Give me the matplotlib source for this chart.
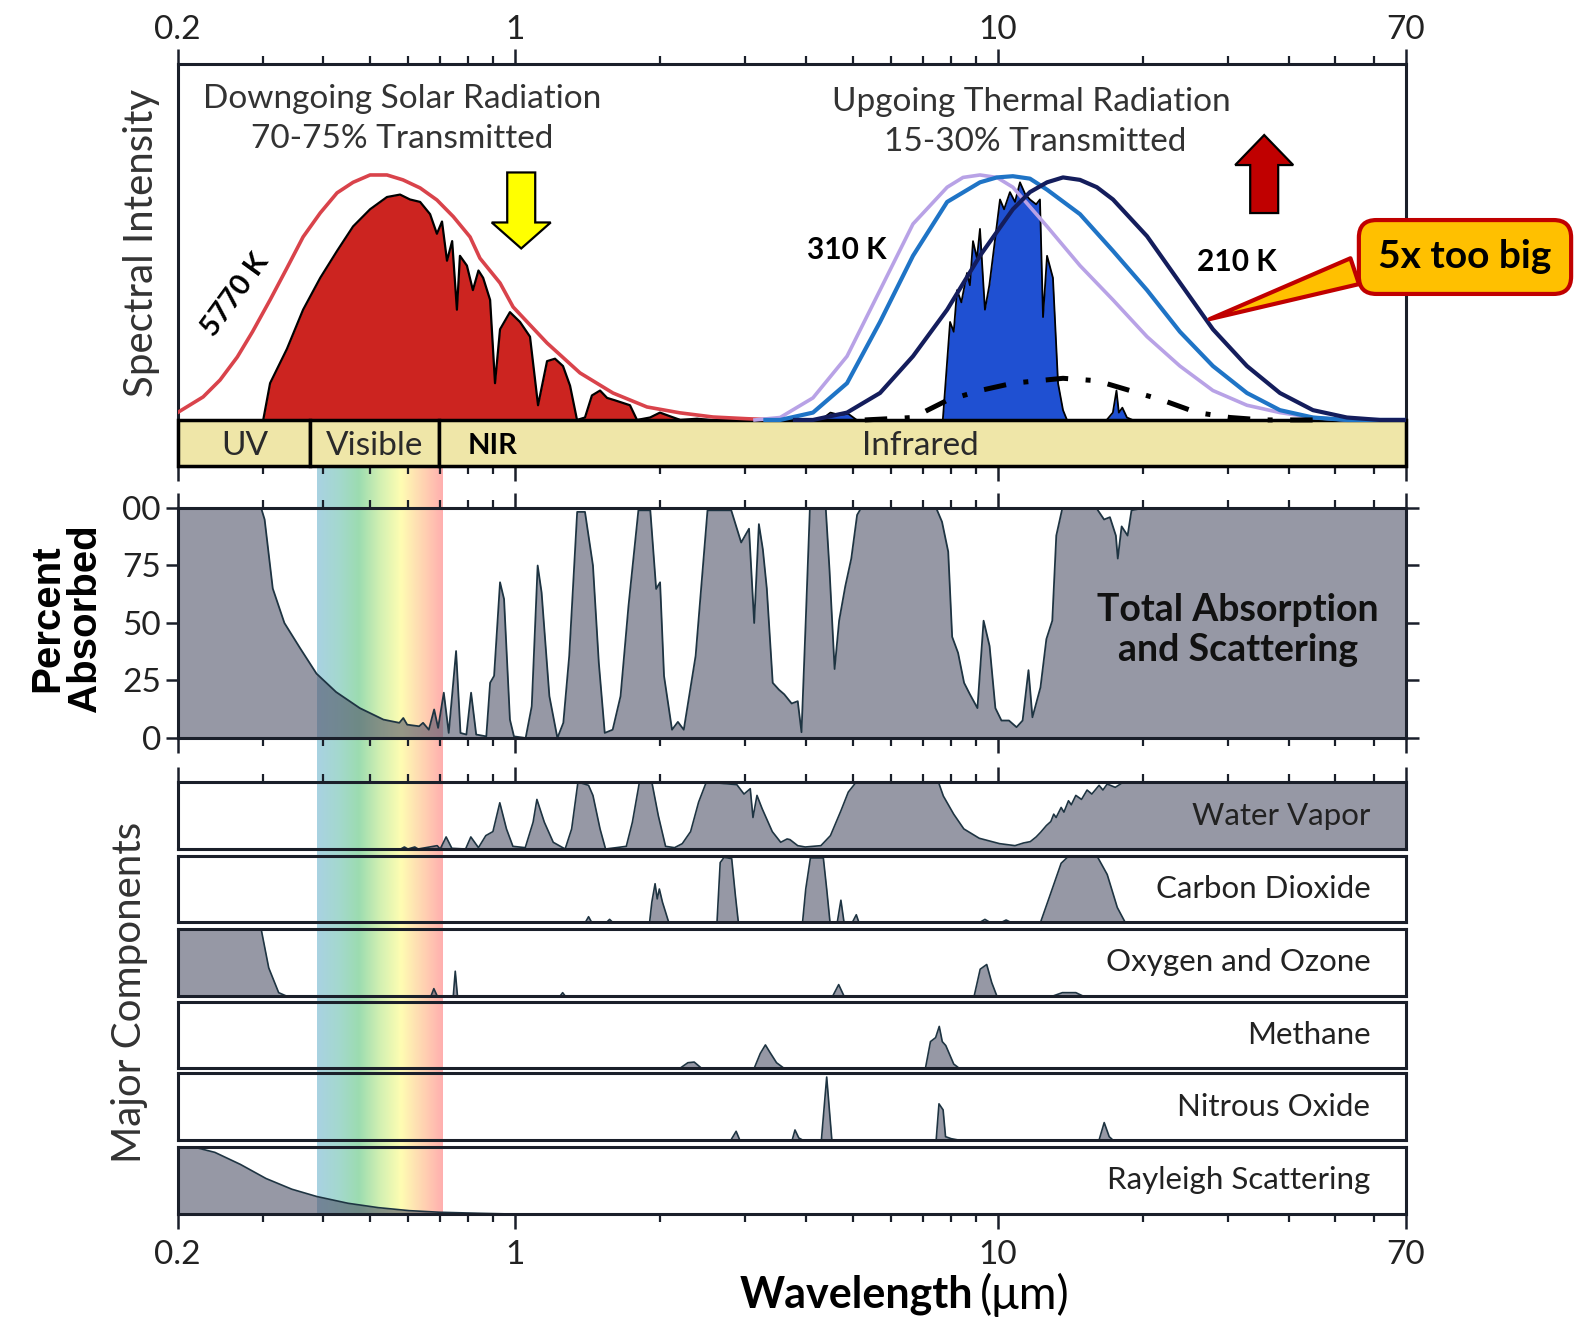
import numpy as np
import matplotlib
matplotlib.use('Agg')
import matplotlib.pyplot as plt
from matplotlib.patches import Rectangle, Polygon
from matplotlib.colors import LinearSegmentedColormap
from matplotlib.ticker import FixedLocator, FixedFormatter, NullFormatter
from matplotlib.transforms import ScaledTranslation

plt.rcParams['font.family'] = ['Lato', 'DejaVu Sans']

# ---------------- data (wavelength in micrometres) ----------------
# top panel, spectral intensity (arbitrary units, peak ~1)
bb_sun_wl = [0.2, 0.226, 0.245, 0.266, 0.286, 0.311, 0.337, 0.364, 0.395, 0.428,
             0.462, 0.501, 0.543, 0.586, 0.636, 0.689, 0.745, 0.807, 0.846, 0.931,
             0.991, 1.165, 1.363, 1.595, 1.876, 2.195, 2.57, 3.02, 3.5]
bb_sun_val = [0.03, 0.094, 0.163, 0.257, 0.36, 0.49, 0.62, 0.747, 0.845, 0.927,
              0.97, 1.0, 1.0, 0.98, 0.947, 0.898, 0.83, 0.747, 0.66, 0.559,
              0.461, 0.314, 0.192, 0.110, 0.053, 0.029, 0.012, 0.005, 0.0]

solar_wl = [0.301, 0.311, 0.337, 0.364, 0.395, 0.428, 0.462, 0.501, 0.543, 0.578,
            0.606, 0.636, 0.667, 0.689, 0.706, 0.723, 0.741, 0.758, 0.769, 0.795,
            0.818, 0.840, 0.859, 0.888, 0.909, 0.931, 0.976, 1.024, 1.074, 1.116,
            1.165, 1.210, 1.257, 1.300, 1.344, 1.396, 1.443, 1.500, 1.551, 1.611,
            1.730, 1.789, 1.904, 1.996, 2.094, 2.20, 2.382, 2.535]
solar_val = [0, 0.15, 0.29, 0.45, 0.58, 0.69, 0.79, 0.86, 0.91, 0.92,
             0.90, 0.89, 0.84, 0.76, 0.81, 0.65, 0.73, 0.45, 0.67, 0.63,
             0.53, 0.61, 0.58, 0.49, 0.15, 0.37, 0.44, 0.40, 0.34, 0.06,
             0.24, 0.25, 0.22, 0.14, 0, 0.01, 0.10, 0.12, 0.09, 0.08,
             0.06, 0, 0.01, 0.03, 0.015, 0, 0.005, 0]

bb310_wl = [3.14, 3.54, 4.14, 4.87, 5.70, 6.67, 7.85, 8.47, 9.18, 9.95,
            10.74, 12.64, 14.79, 17.31, 20.36, 23.82, 27.88, 32.79, 38.37, 44.92,
            52.8, 70]
bb310_val = [0, 0.01, 0.09, 0.26, 0.53, 0.80, 0.95, 0.99, 1.00, 0.99,
             0.95, 0.79, 0.63, 0.49, 0.34, 0.22, 0.12, 0.06, 0.03, 0.01,
             0.0, 0.0]
bb260_wl = [3.3, 3.54, 4.14, 4.87, 5.70, 6.67, 7.85, 9.18, 9.95, 10.74,
            11.65, 12.64, 14.79, 17.31, 20.36, 23.82, 27.88, 32.79, 38.37, 44.92,
            52.8, 70]
bb260_val = [0, 0.0, 0.03, 0.15, 0.40, 0.67, 0.89, 0.97, 0.99, 0.995,
             0.985, 0.94, 0.84, 0.69, 0.53, 0.36, 0.22, 0.11, 0.04, 0.01,
             0.0, 0.0]
bb210_wl = [3.8, 4.14, 4.87, 5.70, 6.67, 7.85, 9.18, 10.74, 11.65, 12.64,
            13.64, 14.79, 16.03, 17.31, 20.36, 23.82, 27.88, 32.79, 38.37, 44.92,
            52.8, 61.8, 70]
bb210_val = [0, 0.0, 0.03, 0.11, 0.26, 0.45, 0.67, 0.86, 0.93, 0.97,
             0.99, 0.98, 0.95, 0.90, 0.75, 0.56, 0.37, 0.22, 0.11, 0.04,
             0.01, 0.0, 0.0]

thermal_wl = [4.3, 4.5, 4.7, 4.9, 5.1, 7.69, 7.96, 8.1, 8.23, 8.4,
              8.63, 8.75, 8.88, 9.05, 9.18, 9.40, 9.6, 9.77, 10.10, 10.3,
              10.59, 10.85, 11.11, 11.4, 11.65, 12.0, 12.22, 12.40, 12.64, 13.00,
              13.32, 13.64, 13.90, 16.8, 17.3, 17.6, 17.8, 18.1, 18.5, 19.0]
thermal_val = [0, 0.03, 0.02, 0.025, 0, 0, 0.40, 0.36, 0.53, 0.48,
               0.60, 0.55, 0.73, 0.66, 0.78, 0.45, 0.55, 0.67, 0.90, 0.86,
               0.93, 0.89, 0.97, 0.92, 0.90, 0.88, 0.90, 0.42, 0.67, 0.58,
               0.15, 0.04, 0, 0, 0.03, 0.12, 0.03, 0.05, 0.01, 0]

dashdot_wl = [5.3, 6.67, 7.85, 9.18, 10.74, 13.64, 16.03, 18.77, 21.97, 25.84, 30.23, 35.39, 46.4]
dashdot_val = [0, 0.01, 0.08, 0.12, 0.15, 0.17, 0.16, 0.12, 0.08, 0.03, 0.01, 0.0, 0.0]

# band bar
band_edges = [(0.2, 0.376), (0.376, 0.696), (0.696, 70)]
band_labels = ['UV', 'Visible', 'NIR', 'Infrared']
band_label_x = [0.276, 0.513, 0.90, 6.9]
vis_lo, vis_hi = 0.389, 0.707

# middle panel, total absorption (%)
total_wl = [0.2, 0.298, 0.303, 0.315, 0.333, 0.359, 0.388, 0.426, 0.477, 0.534,
            0.576, 0.587, 0.598, 0.633, 0.645, 0.663, 0.680, 0.693, 0.712, 0.729,
            0.755, 0.771, 0.793, 0.811, 0.831, 0.872, 0.888, 0.905, 0.931, 0.949,
            0.976, 0.995, 1.052, 1.083, 1.114, 1.135, 1.178, 1.224, 1.259, 1.295,
            1.345, 1.396, 1.450, 1.491, 1.534, 1.593, 1.654, 1.718, 1.801, 1.906,
            1.960, 1.997, 2.035, 2.114, 2.174, 2.236, 2.366, 2.504, 2.804, 2.940,
            3.052, 3.128, 3.199, 3.260, 3.322, 3.417, 3.52, 3.61, 3.74, 3.85,
            3.92, 4.00, 4.08, 4.40, 4.48, 4.59, 4.69, 4.83, 4.97, 5.11,
            5.21, 7.45, 7.66, 7.89, 8.04, 8.27, 8.51, 8.75, 9.07, 9.34,
            9.61, 9.88, 10.17, 10.54, 10.93, 11.25, 11.57, 11.79, 12.25, 12.60,
            12.96, 13.21, 13.60, 15.99, 16.59, 17.06, 17.55, 17.71, 18.04, 18.56,
            18.91, 20.04, 70]
total_pct = [100, 100, 95, 65, 50, 39, 28, 20, 13, 8,
             6.6, 8.7, 5.8, 5.1, 6.6, 3.6, 12.4, 4.4, 19.7, 2.2,
             37.8, 2.2, 1.5, 19.7, 1.5, 0.7, 24, 27, 67.7, 60.4,
             8, 0.7, 0, 13.8, 75, 63.3, 18.2, 0, 6.6, 35.7,
             98.3, 98.3, 75, 32.8, 2.2, 3.6, 18.2, 57.5, 99, 99,
             64.8, 67.7, 27, 3.6, 7, 3.6, 35.7, 99, 99, 85,
             91, 50, 93, 82, 65, 24, 21, 19, 15, 16,
             2.5, 51, 100, 100, 73, 30, 51, 66, 78, 97,
             100, 100, 94, 81, 44, 37, 24, 19, 13, 51,
             40, 13, 7.6, 7.6, 4.7, 7.6, 29.5, 9, 22, 43,
             51, 88, 100, 100, 95, 96, 88, 78, 92, 88,
             99, 100, 100]

# major components (%)
wv_wl = [0.2, 0.58, 0.59, 0.60, 0.62, 0.63, 0.69, 0.70, 0.72, 0.74,
         0.79, 0.81, 0.84, 0.87, 0.90, 0.93, 0.96, 0.99, 1.05, 1.09,
         1.11, 1.15, 1.20, 1.27, 1.31, 1.35, 1.42, 1.45, 1.50, 1.54,
         1.62, 1.70, 1.75, 1.81, 1.92, 1.98, 2.05, 2.14, 2.22, 2.31,
         2.40, 2.49, 2.88, 2.98, 3.07, 3.11, 3.17, 3.25, 3.41, 3.55,
         3.66, 3.71, 3.85, 3.99, 4.30, 4.50, 4.73, 4.90, 5.09, 7.53,
         7.71, 8.10, 8.50, 9.15, 10.08, 10.85, 11.3, 11.67, 12.0, 12.26,
         12.6, 12.87, 13.05, 13.2, 13.52, 13.7, 14.0, 14.19, 14.5, 14.9,
         15.3, 15.65, 16.2, 16.5, 16.84, 17.5, 18.12, 19.99, 70]
wv_pct = [0, 0, 3, 0, 3, 0, 5, 0, 18, 1,
          0, 18, 2, 20, 26, 69, 30, 4, 2, 40,
          74, 40, 10, 0, 30, 100, 95, 80, 30, 0,
          2, 4, 40, 100, 100, 50, 4, 2, 8, 26,
          70, 100, 96, 82, 90, 47, 80, 60, 26, 10,
          15, 14, 5, 3, 5, 20, 57, 85, 100, 100,
          79, 52, 30, 16, 8, 5, 9, 11, 18, 25,
          35, 41, 52, 47, 62, 55, 72, 66, 80, 74,
          88, 82, 95, 88, 97, 92, 99, 100, 100]
co2_wl = [0.2, 1.40, 1.42, 1.44, 1.55, 1.57, 1.59, 1.90, 1.92, 1.95,
          1.97, 1.99, 2.02, 2.05, 2.08, 2.62, 2.66, 2.71, 2.81, 2.86,
          2.90, 3.94, 4.00, 4.09, 4.35, 4.42, 4.49, 4.65, 4.73, 4.80,
          5.00, 5.09, 5.15, 9.2, 9.4, 9.6, 10.2, 10.4, 10.6, 12.26,
          12.87, 13.52, 14.02, 16.04, 16.84, 17.67, 18.33, 70]
co2_pct = [0, 0, 8, 0, 0, 4, 0, 0, 30, 58,
           35, 50, 30, 15, 0, 0, 90, 98, 96, 40,
           0, 0, 50, 97, 97, 50, 0, 0, 33, 0,
           0, 11, 0, 0, 4, 0, 0, 3, 0, 0,
           44, 89, 100, 100, 72, 22, 0, 0]
o3_wl = [0.2, 0.298, 0.309, 0.324, 0.336, 0.67, 0.679, 0.69, 0.745, 0.752,
         0.76, 1.24, 1.255, 1.27, 4.55, 4.68, 4.80, 8.93, 9.19, 9.48,
         9.71, 9.95, 13.0, 13.6, 14.5, 15.0, 70]
o3_pct = [100, 100, 42, 5, 0, 0, 11, 0, 0, 37,
          0, 0, 5, 0, 0, 17, 0, 0, 40, 47,
          20, 0, 0, 5, 5, 0, 0]
ch4_wl = [0.2, 2.20, 2.28, 2.35, 2.43, 3.13, 3.22, 3.30, 3.37, 3.48,
          3.60, 7.08, 7.25, 7.43, 7.56, 7.67, 7.80, 8.10, 8.30, 70]
ch4_pct = [0, 0, 8, 9, 0, 0, 22, 35, 24, 8,
           0, 0, 40, 46, 63, 40, 34, 6, 0, 0]
n2o_wl = [0.2, 2.80, 2.87, 2.92, 3.75, 3.80, 3.87, 3.94, 4.31, 4.42,
          4.53, 7.45, 7.55, 7.70, 7.79, 8.0, 8.28, 16.2, 16.6, 17.0, 17.3, 70]
n2o_pct = [0, 0, 13, 0, 0, 15, 3, 0, 0, 94,
           0, 0, 54, 45, 5, 2, 0, 0, 26, 5, 0, 0]
ray_wl = [0.2, 0.216, 0.239, 0.270, 0.305, 0.345, 0.389, 0.451, 0.521, 0.604,
          0.699, 0.849, 0.984, 70]
ray_pct = [100, 100, 92, 74, 53, 37, 26, 16, 9.5, 5,
           2.6, 1, 0, 0]

components = [('Water Vapor', wv_wl, wv_pct),
              ('Carbon Dioxide', co2_wl, co2_pct),
              ('Oxygen and Ozone', o3_wl, o3_pct),
              ('Methane', ch4_wl, ch4_pct),
              ('Nitrous Oxide', n2o_wl, n2o_pct),
              ('Rayleigh Scattering', ray_wl, ray_pct)]

major_ticks = [0.2, 1, 10, 70]
major_labels = ['0.2', '1', '10', '70']
minor_ticks = [0.3, 0.4, 0.5, 0.6, 0.7, 0.8, 0.9, 2, 3, 4, 5, 6, 7, 8, 9,
               20, 30, 40, 50, 60]

GRAY = '#505369'
GRAY_ALPHA = 0.6
EDGE = '#1e3442'
DARK = '#1a1f2a'

# ---------------- layout ----------------
W, H = 1589, 1319
fig = plt.figure(figsize=(W / 100, H / 100), dpi=100)
fig.patch.set_facecolor('white')

L = 177.5 / W
WD = 1228.5 / W


def frame(top, bot):
    return [L, 1 - bot / H, WD, (bot - top) / H]


def setup_x(ax):
    ax.set_xscale('log')
    ax.set_xlim(0.2, 70)
    ax.xaxis.set_major_locator(FixedLocator(major_ticks))
    ax.xaxis.set_major_formatter(FixedFormatter(major_labels))
    ax.xaxis.set_minor_locator(FixedLocator(minor_ticks))
    ax.xaxis.set_minor_formatter(NullFormatter())
    ax.tick_params(axis='x', which='major', length=11, width=1.8, color=DARK,
                   labelsize=24, labelcolor='#222222', direction='out')
    ax.tick_params(axis='x', which='minor', length=6, width=1.6, color=DARK,
                   direction='out')
    for s in ax.spines.values():
        s.set_linewidth(2.2)
        s.set_color(DARK)


# top panel
ax_top = fig.add_axes(frame(64, 466), zorder=2)
setup_x(ax_top)
ax_top.set_ylim(-0.188, 1.453)
ax_top.set_yticks([])
ax_top.tick_params(axis='x', which='both', top=True, bottom=True,
                   labeltop=True, labelbottom=False)
ax_top.tick_params(axis='x', which='major', pad=3)

for lo, hi in band_edges:
    ax_top.add_patch(Rectangle((lo, -0.188), hi - lo, 0.188, fc='#efe6a8',
                               ec='black', lw=2.5, clip_on=False, zorder=3))
for lab, x in zip(band_labels, band_label_x):
    bold = lab == 'NIR'
    ax_top.text(x, -0.105, lab, ha='center', va='center',
                fontsize=21 if bold else 24, fontweight='bold' if bold else 'normal',
                color='black' if bold else '#2a2a2a', zorder=4)

ax_top.fill_between(solar_wl, 0, solar_val, color='#cc2420', lw=0, zorder=2)
ax_top.plot(solar_wl, solar_val, color='black', lw=1.6, zorder=2.5)
ax_top.plot(bb_sun_wl, bb_sun_val, color='#d9434b', lw=2.6, zorder=3)

ax_top.fill_between(thermal_wl, 0, thermal_val, color='#1f50d2', lw=0, zorder=2)
ax_top.plot(thermal_wl, thermal_val, color='black', lw=1.3, zorder=2.5)
ax_top.plot(bb310_wl, bb310_val, color='#b8a2e6', lw=2.6, zorder=3)
ax_top.plot(bb260_wl, bb260_val, color='#1f74c6', lw=3.0, zorder=3)
ax_top.plot(bb210_wl, bb210_val, color='#141d5c', lw=3.0, zorder=3)
ax_top.plot(dashdot_wl, dashdot_val, color='black', lw=3.6,
            linestyle=(0, (4.5, 3.5, 1, 3.5)), zorder=3.5)

ax_top.text(0.583, 1.31, 'Downgoing Solar Radiation', ha='center', va='center',
            fontsize=24, color='#333333')
ax_top.text(0.583, 1.147, '70-75% Transmitted', ha='center', va='center',
            fontsize=24, color='#333333')
ax_top.text(11.7, 1.298, 'Upgoing Thermal Radiation', ha='center', va='center',
            fontsize=24, color='#333333')
ax_top.text(11.97, 1.135, '15-30% Transmitted', ha='center', va='center',
            fontsize=24, color='#333333')
ax_top.text(0.263, 0.51, '5770 K', rotation=54, ha='center', va='center',
            fontsize=21, fontweight='bold', color='black')
ax_top.text(4.87, 0.694, '310 K', ha='center', va='center',
            fontsize=21.5, fontweight='bold', color='black')
ax_top.text(31.3, 0.645, '210 K', ha='center', va='center',
            fontsize=21.5, fontweight='bold', color='black')

# arrows (shape in pixels around the tip)
yellow = np.array([(0, 0), (-29.5, 26), (-14, 26), (-14, 76), (14, 76),
                   (14, 26), (29.5, 26)]) / 100.0
red = np.array([(0, 0), (29, -30), (14, -30), (14, -78), (-14, -78),
                (-14, -30), (-29, -30)]) / 100.0
tr_y = fig.dpi_scale_trans + ScaledTranslation(1.03, 0.70, ax_top.transData)
tr_r = fig.dpi_scale_trans + ScaledTranslation(35.6, 1.163, ax_top.transData)
ax_top.add_patch(Polygon(yellow, closed=True, transform=tr_y, fc='#ffff00',
                         ec='black', lw=1.6, zorder=6, clip_on=False))
ax_top.add_patch(Polygon(red, closed=True, transform=tr_r, fc='#c00000',
                         ec='black', lw=1.6, zorder=6, clip_on=False))

ax_top.annotate('5x too big', xy=(27.1, 0.408), xycoords='data',
                xytext=(1465, H - 257), textcoords='figure pixels',
                ha='center', va='center', fontsize=28, fontweight='bold',
                color='black', zorder=8, annotation_clip=False,
                bbox=dict(boxstyle='round,pad=0.5,rounding_size=0.45',
                          fc='#ffc000', ec='#c00000', lw=3),
                arrowprops=dict(arrowstyle='wedge,tail_width=0.7,shrink_factor=0.5',
                                fc='#ffc000', ec='#c00000', lw=3,
                                relpos=(0.02, 0.35)))

# middle panel
ax_mid = fig.add_axes(frame(508, 738), zorder=2)
ax_mid.set_facecolor('none')
setup_x(ax_mid)
ax_mid.set_ylim(0, 100)
ax_mid.tick_params(axis='x', which='both', top=True, bottom=True,
                   labeltop=False, labelbottom=False)
ax_mid.set_yticks([0, 25, 50, 75, 100])
ax_mid.set_yticklabels(['0', '25', '50', '75', '00'])
ax_mid.tick_params(axis='y', left=True, right=True, length=9, width=1.8,
                   color=DARK, labelsize=24, labelcolor='#222222',
                   direction='out', pad=3)
ax_mid.fill_between(total_wl, 0, total_pct, color=GRAY, alpha=GRAY_ALPHA, lw=0)
ax_mid.plot(total_wl, total_pct, color=EDGE, lw=1.3)
ax_mid.text(0.863, 0.47, 'Total Absorption\nand Scattering',
            transform=ax_mid.transAxes, ha='center', va='center',
            fontsize=27, fontweight='bold', color='#111111', linespacing=1.2)

# component strips
strip_px = [(782, 849), (856, 922), (929, 996), (1002, 1068), (1073, 1140), (1147, 1214)]
for i, ((name, wl, pct), (t, b)) in enumerate(zip(components, strip_px)):
    ax = fig.add_axes(frame(t, b), zorder=2)
    ax.set_facecolor('none')
    setup_x(ax)
    ax.set_ylim(0, 100)
    ax.set_yticks([])
    ax.tick_params(axis='x', which='both', top=(i == 0), bottom=(i == 5),
                   labeltop=False, labelbottom=(i == 5))
    ax.tick_params(axis='x', which='major', pad=8)
    ax.fill_between(wl, 0, pct, color=GRAY, alpha=GRAY_ALPHA, lw=0)
    ax.plot(wl, pct, color=EDGE, lw=1.2)
    ax.text(0.971, 0.5, name, transform=ax.transAxes, ha='right', va='center',
            fontsize=22.5, color='#222222')

# visible rainbow band behind the lower panels
x_lo = ax_mid.transData.transform((vis_lo, 50))[0] / fig.bbox.width
x_hi = ax_mid.transData.transform((vis_hi, 50))[0] / fig.bbox.width
ax_rb = fig.add_axes([x_lo, 1 - 1214 / H, x_hi - x_lo, (1214 - 466) / H], zorder=1)
rainbow = LinearSegmentedColormap.from_list(
    'vis', ['#a9d2e2', '#a4d8cf', '#9cdcb0', '#d2f0b2', '#fefdb2', '#ffd6b2', '#ffafaf'])
ax_rb.imshow(np.linspace(0, 1, 256)[None, :], aspect='auto', cmap=rainbow,
             extent=[0, 1, 0, 1])
ax_rb.axis('off')

# labels
fig.text(142 / W, 1 - 243 / H, 'Spectral Intensity', rotation=90, ha='center',
         va='center', fontsize=29, color='#333333')
fig.text(66 / W, 1 - 618 / H, 'Percent\nAbsorbed', rotation=90, ha='center',
         va='center', fontsize=29, fontweight='bold', color='black',
         family=['Liberation Sans', 'DejaVu Sans'], linespacing=1.0)
fig.text(130 / W, 1 - 992 / H, 'Major Components', rotation=90, ha='center',
         va='center', fontsize=29, color='#333333')
fig.text(973 / W, 1 - 1295 / H, 'Wavelength', ha='right', va='center',
         fontsize=31, fontweight='bold', color='black')
fig.text(980 / W, 1 - 1295 / H, '(μm)', ha='left', va='center',
         fontsize=33, color='black')

fig.savefig('out.png', dpi=100, facecolor='white')
